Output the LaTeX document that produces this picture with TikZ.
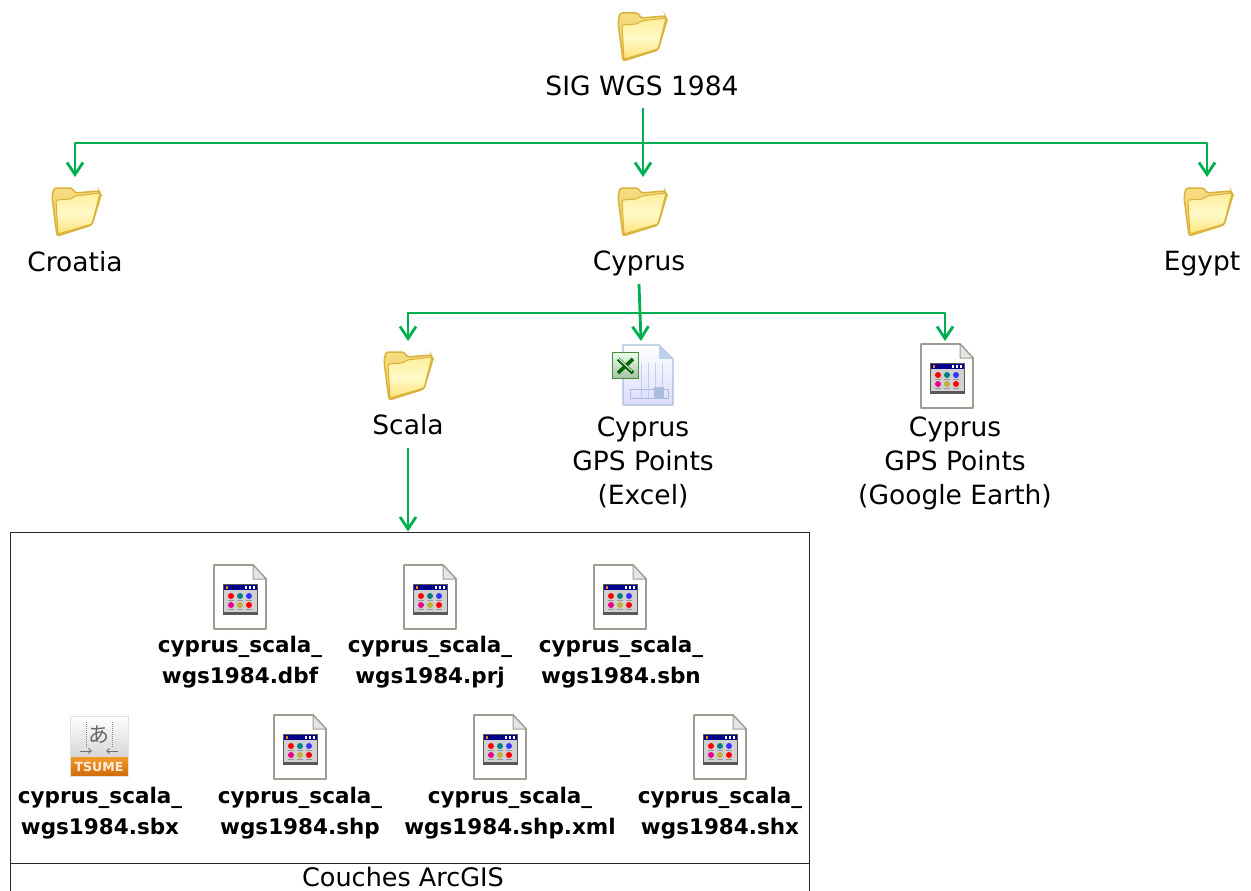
\documentclass[tikz,border=0pt]{standalone}
\usepackage{fontspec}
\setmainfont{DejaVu Sans}
\newfontfamily\cjkfont{Noto Sans CJK JP}
\usetikzlibrary{arrows.meta}
\definecolor{conngreen}{HTML}{00B050}
\definecolor{foldedge}{HTML}{D9B23C}
\definecolor{foldback}{HTML}{F7DC82}
\definecolor{foldbacklow}{HTML}{EFC95A}
\definecolor{foldtop}{HTML}{FFEE9C}
\definecolor{foldmid}{HTML}{FFFAC8}
\definecolor{foldlow}{HTML}{FFE27A}
\definecolor{pageedge}{HTML}{9C9E92}
\definecolor{xledge}{HTML}{A8BEDC}
\definecolor{xlgrid}{HTML}{BCD0EA}
\definecolor{xlgreen}{HTML}{4E8A3E}
\definecolor{tsumehi}{HTML}{F39A2C}
\definecolor{tsumelo}{HTML}{CF6A08}
\tikzset{
  x=1pt,y=-1pt,
  conn/.style={draw=conngreen,line width=2.8pt,line join=round,-{Straight Barb[length=12pt,width=16pt,line width=2.8pt]}},
  biglabel/.style={inner sep=0pt,align=center,font=\fontsize{26.5}{34}\selectfont},
  filelabel/.style={inner sep=0pt,align=center,font=\fontsize{21.5}{31}\selectfont\bfseries},
  frameline/.style={draw=black!85,line width=1pt},
  pics/folder/.style={code={
    \draw[line width=1.5pt,draw=foldedge,top color=foldback,bottom color=foldbacklow,rounded corners=2.5pt]
      (-24,-15)--(-22,-24)--(-4,-24)--(-1,-19)--(23,-21)--(25,-17)--(16,13)--(-19,24)--cycle;
    \draw[line width=1pt,draw=foldedge,top color=foldtop,bottom color=foldlow,middle color=foldmid,rounded corners=1.5pt]
      (-20,-12)--(-5,-13)--(-1,-16)--(24,-19)--(16,12)--(-18,22)--cycle;
  }},
  pics/docicon/.style={code={
    \draw[line width=1.8pt,draw=pageedge,fill=white,line join=round] (-26,-32)--(13,-32)--(26,-18)--(26,32)--(-26,32)--cycle;
    \draw[line width=1pt,draw=pageedge,fill=black!10] (13,-32)--(13,-18)--(26,-18)--cycle;
    \fill[black!65] (-17,-13) rectangle (18,18);
    \fill[black!18] (-16,-12) rectangle (17,15);
    \fill[blue!55!black] (-16,-12) rectangle (17,-7);
    \fill[orange] (-14,-11) rectangle (-12,-8);
    \foreach \tx in {5,9,13}{\fill[white] (\tx,-11) rectangle (\tx+2,-8);}
    \foreach \cx/\cy/\cc in {-9/-1/red,0/-1/teal,9/-1/blue!80,-9/8/magenta,0/8/yellow!70!black,9/8/red}{
      \fill[\cc] (\cx,\cy) circle[radius=3];
      \fill[black!40] (\cx-3,\cy+3.5) rectangle (\cx+3,\cy+4.5);
    }
  }},
  pics/excelicon/.style={code={
    \draw[line width=1.4pt,draw=xledge,top color=white,bottom color=blue!14,line join=round] (-25,-30)--(11,-30)--(25,-16)--(25,30)--(-25,30)--cycle;
    \fill[xlgrid] (11,-30)--(11,-16)--(25,-16)--cycle;
    \draw[line width=.8pt,draw=xlgrid] (-8,-12) grid[xstep=7,ystep=7] (20,23);
    \draw[line width=1pt,draw=xledge] (-18,14) rectangle (20,23);
    \fill[xledge] (6,12) rectangle (16,23);
    \draw[line width=1.8pt,draw=xlgreen,top color=green!8,bottom color=green!30!black!35] (-35.5,-22.5) rectangle (-9.5,3.5);
    \draw[line width=3.6pt,draw=green!40!black] (-30,-16)--(-15,-2) (-15,-16)--(-30,-2);
    \draw[line width=.9pt,draw=white] (-30,-17)--(-16,-4);
  }},
  pics/tsumeicon/.style={code={
    \shade[top color=white,bottom color=black!16] (-29,-30) rectangle (29,11);
    \shade[top color=tsumehi,bottom color=tsumelo] (-29,11) rectangle (29,30);
    \draw[black!12,line width=1pt] (-29,-30) rectangle (29,30);
    \node[inner sep=0pt,text=black!60,font=\fontsize{21}{21}\selectfont\cjkfont] (tsumeglyph) at (0,-11) {あ};
    \node[inner sep=0pt,text=orange!15,font=\fontsize{12.5}{12}\selectfont\bfseries] (tsumeword) at (0,20.5) {TSUME};
    \draw[black!45,densely dotted,line width=1pt] (-13,-24)--(-13,2) (13,-24)--(13,2);
    \draw[black!55,line width=.9pt,-{Straight Barb[length=3pt,width=5pt]}] (-19,5)--(-7,5);
    \draw[black!55,line width=.9pt,-{Straight Barb[length=3pt,width=5pt]}] (19,5)--(7,5);
  }},
}
\newcommand{\fname}{cyprus\_scala\_}
\begin{document}
\begin{tikzpicture}
\useasboundingbox[fill=white] (0,0) rectangle (1251,891);
% icons
\pic at (642,37) {folder};
\pic at (76,212) {folder};
\pic at (642,212) {folder};
\pic at (1208,212) {folder};
\pic at (408,376) {folder};
\pic at (648,375) {excelicon};
\pic at (947,376) {docicon};
\pic at (240,597) {docicon};
\pic at (430,597) {docicon};
\pic at (620,597) {docicon};
\pic at (99,746) {tsumeicon};
\pic at (300,747) {docicon};
\pic at (500,747) {docicon};
\pic at (720,747) {docicon};
% labels
\node[biglabel] (root) at (642,86) {SIG WGS 1984};
\node[biglabel] (croatia) at (75,262) {Croatia};
\node[biglabel] (cyprus) at (639,263) {Cyprus};
\node[biglabel] (egypt) at (1202,264) {Egypt};
\node[biglabel] (scala) at (408,425) {Scala};
\node[biglabel] (gpsxl) at (643,462) {Cyprus\\GPS Points\\(Excel)};
\node[biglabel] (gpsge) at (955,463) {Cyprus\\GPS Points\\(Google Earth)};
\node[filelabel] (f1) at (240,662) {\fname\\wgs1984.dbf};
\node[filelabel] (f2) at (430,662) {\fname\\wgs1984.prj};
\node[filelabel] (f3) at (621,662) {\fname\\wgs1984.sbn};
\node[filelabel] (f4) at (100,813) {\fname\\wgs1984.sbx};
\node[filelabel] (f5) at (300,813) {\fname\\wgs1984.shp};
\node[filelabel] (f6) at (510,813) {\fname\\wgs1984.shp.xml};
\node[filelabel] (f7) at (720,813) {\fname\\wgs1984.shx};
% frame
\node[frameline,draw,minimum width=799pt,minimum height=331pt,inner sep=0pt] (files) at (409.5,697.5) {};
\node[frameline,draw,minimum width=799pt,minimum height=34pt,inner sep=0pt] (caption) at (409.5,880) {};
\node[biglabel,font=\fontsize{25.5}{34}\selectfont] (captext) at (403,876.5) {Couches ArcGIS};
% connector ends
\coordinate (rootout) at (643,108);
\coordinate (hubA) at (643,143);
\coordinate (inCroatia) at (75,177);
\coordinate (inCyprus) at (643,177);
\coordinate (inEgypt) at (1207,177);
\coordinate (cyout) at (639,284);
\coordinate (hubB) at (640,313);
\coordinate (inScala) at (408,341);
\coordinate (inXl) at (641,341);
\coordinate (inGe) at (945,341);
\coordinate (scout) at (408,448);
% connectors
\draw[conn] (rootout) -- (inCyprus);
\draw[conn] (hubA) -| (inCroatia);
\draw[conn] (hubA) -| (inEgypt);
\draw[conn] (cyout) -- (inXl);
\draw[conn] (hubB) -| (inScala);
\draw[conn] (hubB) -| (inGe);
\draw[conn] (scout) -- (files.north -| scout);
\end{tikzpicture}
\end{document}
